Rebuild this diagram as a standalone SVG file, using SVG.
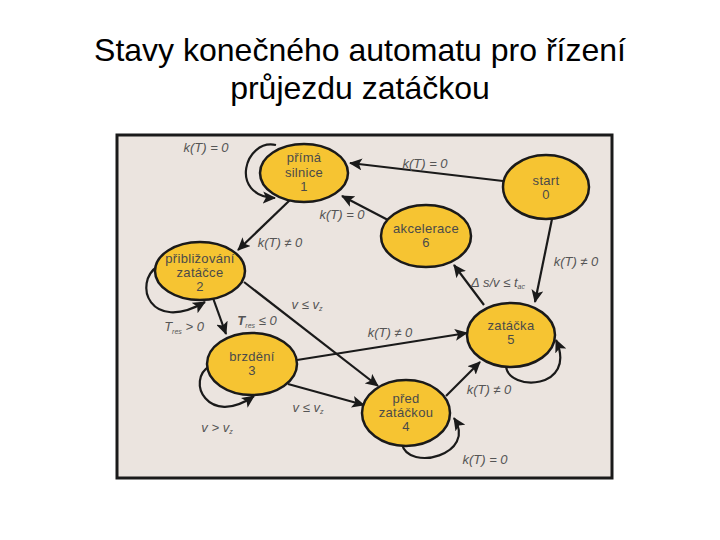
<svg xmlns="http://www.w3.org/2000/svg" width="720" height="540" viewBox="0 0 720 540">
<style>
.title{font-family:"Liberation Sans",Arial,sans-serif;font-size:32px;fill:#000;text-anchor:middle}
.node ellipse{fill:#f6c432;stroke:#1a1a1a;stroke-width:2.5}
.node text{font-family:"Liberation Sans",Arial,sans-serif;font-size:13px;letter-spacing:0.3px;fill:#4a4a4a;text-anchor:middle}
.edge{fill:none;stroke:#1a1a1a;stroke-width:2.2;marker-end:url(#ah)}
.lbl{font-family:"Liberation Sans",Arial,sans-serif;font-size:13px;fill:#555;font-style:italic;text-anchor:middle}
.sub{font-size:7px}
</style>
<defs>
<marker id="ah" markerUnits="userSpaceOnUse" markerWidth="14" markerHeight="12" refX="12" refY="6" orient="auto">
<path d="M0,0 L13,6 L0,12 L3,6 Z" fill="#1a1a1a"/>
</marker>
</defs>
<rect width="720" height="540" fill="#fff"/>
<text class="title" x="360" y="61">Stavy konečného automatu pro řízení</text>
<text class="title" x="360" y="99">průjezdu zatáčkou</text>
<rect x="117" y="135" width="495" height="343" fill="#ebe4df" stroke="#1a1a1a" stroke-width="3"/>
<g id="connectors">
<path class="edge" d="M276,145 C245,138 228,196 275,198"/>
<path class="edge" d="M503,181 L350,163"/>
<path class="edge" d="M388,220 L342,196"/>
<path class="edge" d="M290,200 L238,250"/>
<path class="edge" d="M158,266 C132,283 150,334 205,302"/>
<path class="edge" d="M213,298 L226,334"/>
<path class="edge" d="M244,282 L378,386"/>
<path class="edge" d="M297,360 L467,333"/>
<path class="edge" d="M288,384 L364,405"/>
<path class="edge" d="M210,366 C185,380 208,428 254,396"/>
<path class="edge" d="M552,219 L535,302"/>
<path class="edge" d="M484,305 L454,265"/>
<path class="edge" d="M446,396 L480,362"/>
<path class="edge" d="M506,366 C508,392 578,390 556,340"/>
<path class="edge" d="M402,444 C408,472 478,455 454,418"/>
<text class="lbl" x="206" y="152">k(T) = 0</text>
<text class="lbl" x="425" y="168">k(T) = 0</text>
<text class="lbl" x="342" y="219">k(T) = 0</text>
<text class="lbl" x="280" y="247">k(T) ≠  0</text>
<text class="lbl" x="184" y="331">T<tspan class="sub" dy="3">res</tspan><tspan dy="-3"> &gt; 0</tspan></text>
<text class="lbl" x="257" y="325"><tspan font-weight="bold">T</tspan><tspan class="sub" dy="3">res</tspan><tspan dy="-3">   ≤ 0</tspan></text>
<text class="lbl" x="307" y="309">v ≤ v<tspan class="sub" dy="2">z</tspan></text>
<text class="lbl" x="390" y="337">k(T) ≠  0</text>
<text class="lbl" x="308" y="412">v ≤ v<tspan class="sub" dy="2">z</tspan></text>
<text class="lbl" x="217" y="432">v &gt; v<tspan class="sub" dy="2">z</tspan></text>
<text class="lbl" x="576" y="266">k(T) ≠  0</text>
<text class="lbl" x="498" y="287">Δ s/v ≤ t<tspan class="sub" dy="2">ac</tspan></text>
<text class="lbl" x="489" y="394">k(T) ≠  0</text>
<text class="lbl" x="485" y="464">k(T) = 0</text>
</g>
<g id="n1" class="node"><ellipse cx="304" cy="173" rx="44" ry="29"/><text x="304" y="162">přímá</text><text x="304" y="177">silnice</text><text x="304" y="191">1</text></g>
<g id="n0" class="node"><ellipse cx="546" cy="187" rx="43" ry="32"/><text x="546" y="185">start</text><text x="546" y="199">0</text></g>
<g id="n6" class="node"><ellipse cx="426" cy="236" rx="45" ry="31"/><text x="426" y="233">akcelerace</text><text x="426" y="247">6</text></g>
<g id="n2" class="node"><ellipse cx="200" cy="271" rx="45" ry="29"/><text x="200" y="263">přibližování</text><text x="200" y="277">zatáčce</text><text x="200" y="291">2</text></g>
<g id="n3" class="node"><ellipse cx="252" cy="364" rx="45" ry="31"/><text x="252" y="361">brzdění</text><text x="252" y="375">3</text></g>
<g id="n5" class="node"><ellipse cx="511" cy="335" rx="44" ry="32"/><text x="511" y="330">zatáčka</text><text x="511" y="344">5</text></g>
<g id="n4" class="node"><ellipse cx="406" cy="413" rx="44" ry="33"/><text x="406" y="403">před</text><text x="406" y="417">zatáčkou</text><text x="406" y="431">4</text></g>
</svg>
